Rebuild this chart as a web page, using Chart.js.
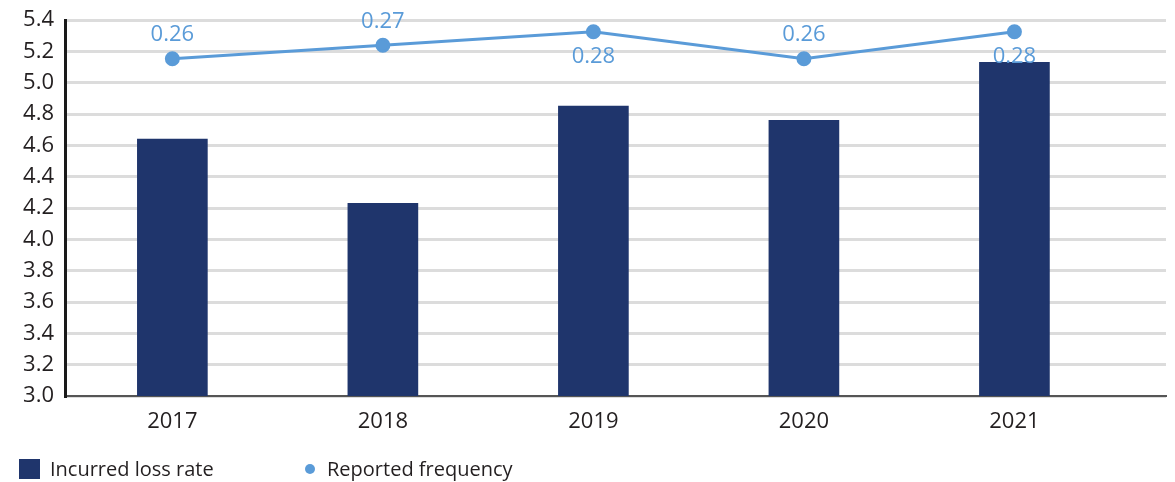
<!DOCTYPE html>
<html>
<head>
<meta charset="utf-8">
<script src="https://cdn.jsdelivr.net/npm/chart.js@4.4.0/dist/chart.umd.min.js"></script>
<style>
  html, body { margin: 0; padding: 0; background: #fff; }
  #wrap { position: relative; width: 1175px; height: 482px; }
  #lossChart { position: absolute; left: 0; top: 0; }
  .legend { position: absolute; top: 456px; left: 0; font-family: "Open Sans", sans-serif; font-size: 20px; color: #231f20; }
  .legend-item { position: absolute; white-space: nowrap; line-height: 26px; }
  .swatch-bar { position: absolute; width: 21px; height: 20px; top: 3px; }
  .swatch-dot { position: absolute; width: 10px; height: 10px; border-radius: 50%; top: 8px; }
</style>
</head>
<body>
<div id="wrap">
  <canvas id="lossChart" width="1175" height="482"></canvas>
  <div class="legend" id="legend"></div>
</div>
<script>
const years = [2017, 2018, 2019, 2020, 2021];
const lossRate = [4.64, 4.23, 4.85, 4.76, 5.13];
const reportedFreq = [0.26, 0.27, 0.28, 0.26, 0.28];
const yTicks = [3.0, 3.2, 3.4, 3.6, 3.8, 4.0, 4.2, 4.4, 4.6, 4.8, 5.0, 5.2, 5.4];
// where each frequency label sits relative to its point
const freqLabelSide = ['above', 'above', 'below', 'above', 'below'];

const barColor = '#1f356c';
const lineColor = '#5a9bd8';
const textColor = '#231f20';
const fontFamily = '"Open Sans", sans-serif';

// writes the frequency values next to the line points
const freqLabels = {
    id: 'freqLabels',
    afterDatasetsDraw(chart) {
        const meta = chart.getDatasetMeta(1);
        const ctx = chart.ctx;
        ctx.save();
        ctx.font = '22px ' + fontFamily;
        ctx.fillStyle = lineColor;
        ctx.textAlign = 'center';
        ctx.textBaseline = 'middle';
        meta.data.forEach((pt, i) => {
            const dy = freqLabelSide[i] === 'above' ? -24 : 25;
            ctx.fillText(reportedFreq[i].toFixed(2), pt.x, pt.y + dy);
        });
        ctx.restore();
    }
};

const ctx = document.getElementById('lossChart').getContext('2d');
new Chart(ctx, {
    type: 'bar',
    data: {
        datasets: [
            {
                type: 'bar',
                label: 'Incurred loss rate',
                data: years.map((y, i) => ({ x: y, y: lossRate[i] })),
                backgroundColor: barColor,
                barThickness: 70,
                yAxisID: 'y',
                order: 2
            },
            {
                type: 'line',
                label: 'Reported frequency',
                data: years.map((y, i) => ({ x: y, y: reportedFreq[i] })),
                borderColor: lineColor,
                backgroundColor: lineColor,
                borderWidth: 3,
                pointRadius: 6,
                pointHoverRadius: 6,
                tension: 0,
                yAxisID: 'y2',
                order: 1
            }
        ]
    },
    options: {
        responsive: false,
        animation: false,
        layout: { padding: { top: 20, right: 7, left: 0, bottom: 0 } },
        plugins: {
            legend: { display: false },
            tooltip: { enabled: false }
        },
        scales: {
            x: {
                type: 'linear',
                offset: false,
                min: 2016.49,
                max: 2021.72,
                afterFit: (scale) => {
                    scale.height = 86;
                    scale.paddingLeft = 0;
                    scale.paddingRight = 0;
                },
                ticks: {
                    stepSize: 1,
                    includeBounds: false,
                    padding: 13,
                    color: textColor,
                    font: { family: fontFamily, size: 22 },
                    callback: (v) => String(v)
                },
                grid: { display: false, drawTicks: false, offset: false },
                border: { display: true, color: '#555555', width: 2 }
            },
            y: {
                position: 'left',
                min: 3.0,
                max: 5.4,
                afterFit: (scale) => {
                    scale.width = 65;
                    scale.paddingTop = 0;
                    scale.paddingBottom = 0;
                },
                afterBuildTicks: (scale) => { scale.ticks = yTicks.map(v => ({ value: v })); },
                ticks: {
                    padding: 11,
                    color: textColor,
                    font: { family: fontFamily, size: 22 },
                    callback: (v) => Number(v).toFixed(1)
                },
                grid: { color: '#dcdcdc', lineWidth: 3, drawTicks: false },
                border: { display: true, color: '#1a1a1a', width: 3 }
            },
            y2: {
                display: false,
                min: 0.0102,
                max: 0.2887
            }
        }
    },
    plugins: [freqLabels]
});

// legend under the plot
const legend = document.getElementById('legend');
legend.innerHTML =
    '<div class="legend-item" style="left:19px"><span class="swatch-bar" style="left:0;background:' + barColor + '"></span>' +
    '<span style="position:relative;left:31px">Incurred loss rate</span></div>' +
    '<div class="legend-item" style="left:305px"><span class="swatch-dot" style="left:0;background:' + lineColor + '"></span>' +
    '<span style="position:relative;left:22px">Reported frequency</span></div>';
</script>
</body>
</html>
